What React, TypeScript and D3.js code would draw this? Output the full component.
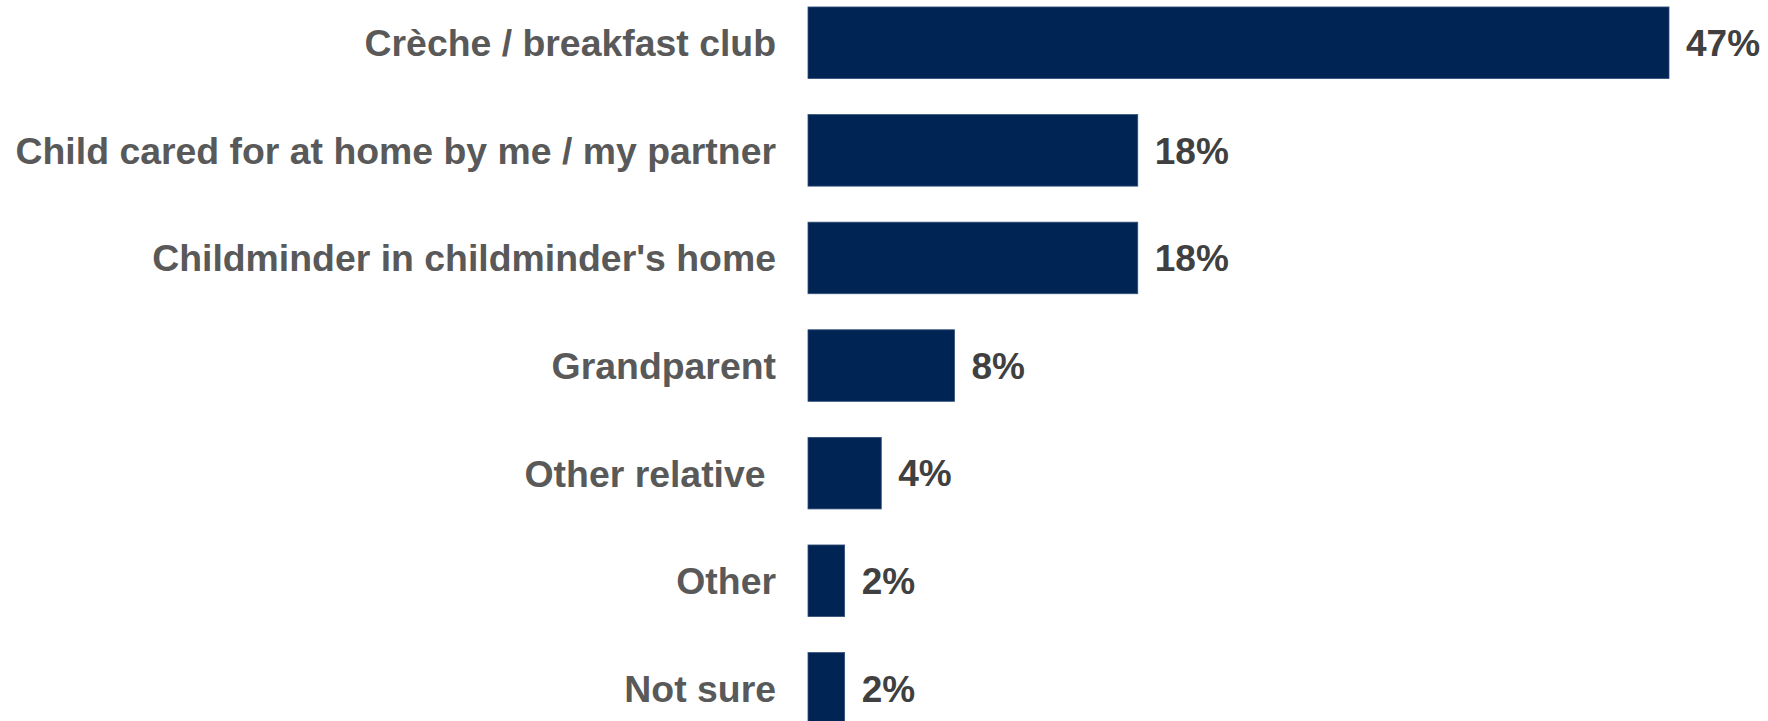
import React from "react";
import * as d3 from "d3";

const categories = [
  "Crèche / breakfast club",
  "Child cared for at home by me / my partner",
  "Childminder in childminder's home",
  "Grandparent",
  "Other relative ",
  "Other",
  "Not sure",
];
const values = [47, 18, 18, 8, 4, 2, 2];
const valueLabels = ["47%", "18%", "18%", "8%", "4%", "2%", "2%"];

const W = 1768;
const H = 721;

export default function App() {
  const x = d3.scaleLinear().domain([0, 47]).range([808, 1669]);
  const y = d3
    .scaleBand<string>()
    .domain(categories)
    .range([-11.05, -11.05 + 7 * 107.6])
    .paddingInner(0.335)
    .paddingOuter(0.1675);
  const font = "Liberation Sans, Arial, sans-serif";
  return (
    <svg
      width={W}
      height={H}
      style={{ position: "absolute", left: 0, top: 0, display: "block", background: "#fff" }}
    >
      {categories.map((c, i) => {
        const y0 = y(c)!;
        const bh = y.bandwidth();
        const cy = y0 + bh / 2;
        return (
          <g key={c}>
            <rect
              x={x(0)}
              y={y0}
              width={x(values[i]) - x(0)}
              height={bh}
              fill="#002453"
              stroke="#33507a"
              strokeWidth={0.8}
            />
            <text
              x={776}
              y={cy}
              dy="0.36em"
              textAnchor="end"
              fontFamily={font}
              fontWeight="bold"
              fontSize={37.4}
              fill="#595959"
              style={{ whiteSpace: "pre" }}
              xmlSpace="preserve"
            >
              {c}
            </text>
            <text
              x={x(values[i]) + 17}
              y={cy}
              dy="0.36em"
              textAnchor="start"
              fontFamily={font}
              fontWeight="bold"
              fontSize={37}
              fill="#404040"
            >
              {valueLabels[i]}
            </text>
          </g>
        );
      })}
    </svg>
  );
}
